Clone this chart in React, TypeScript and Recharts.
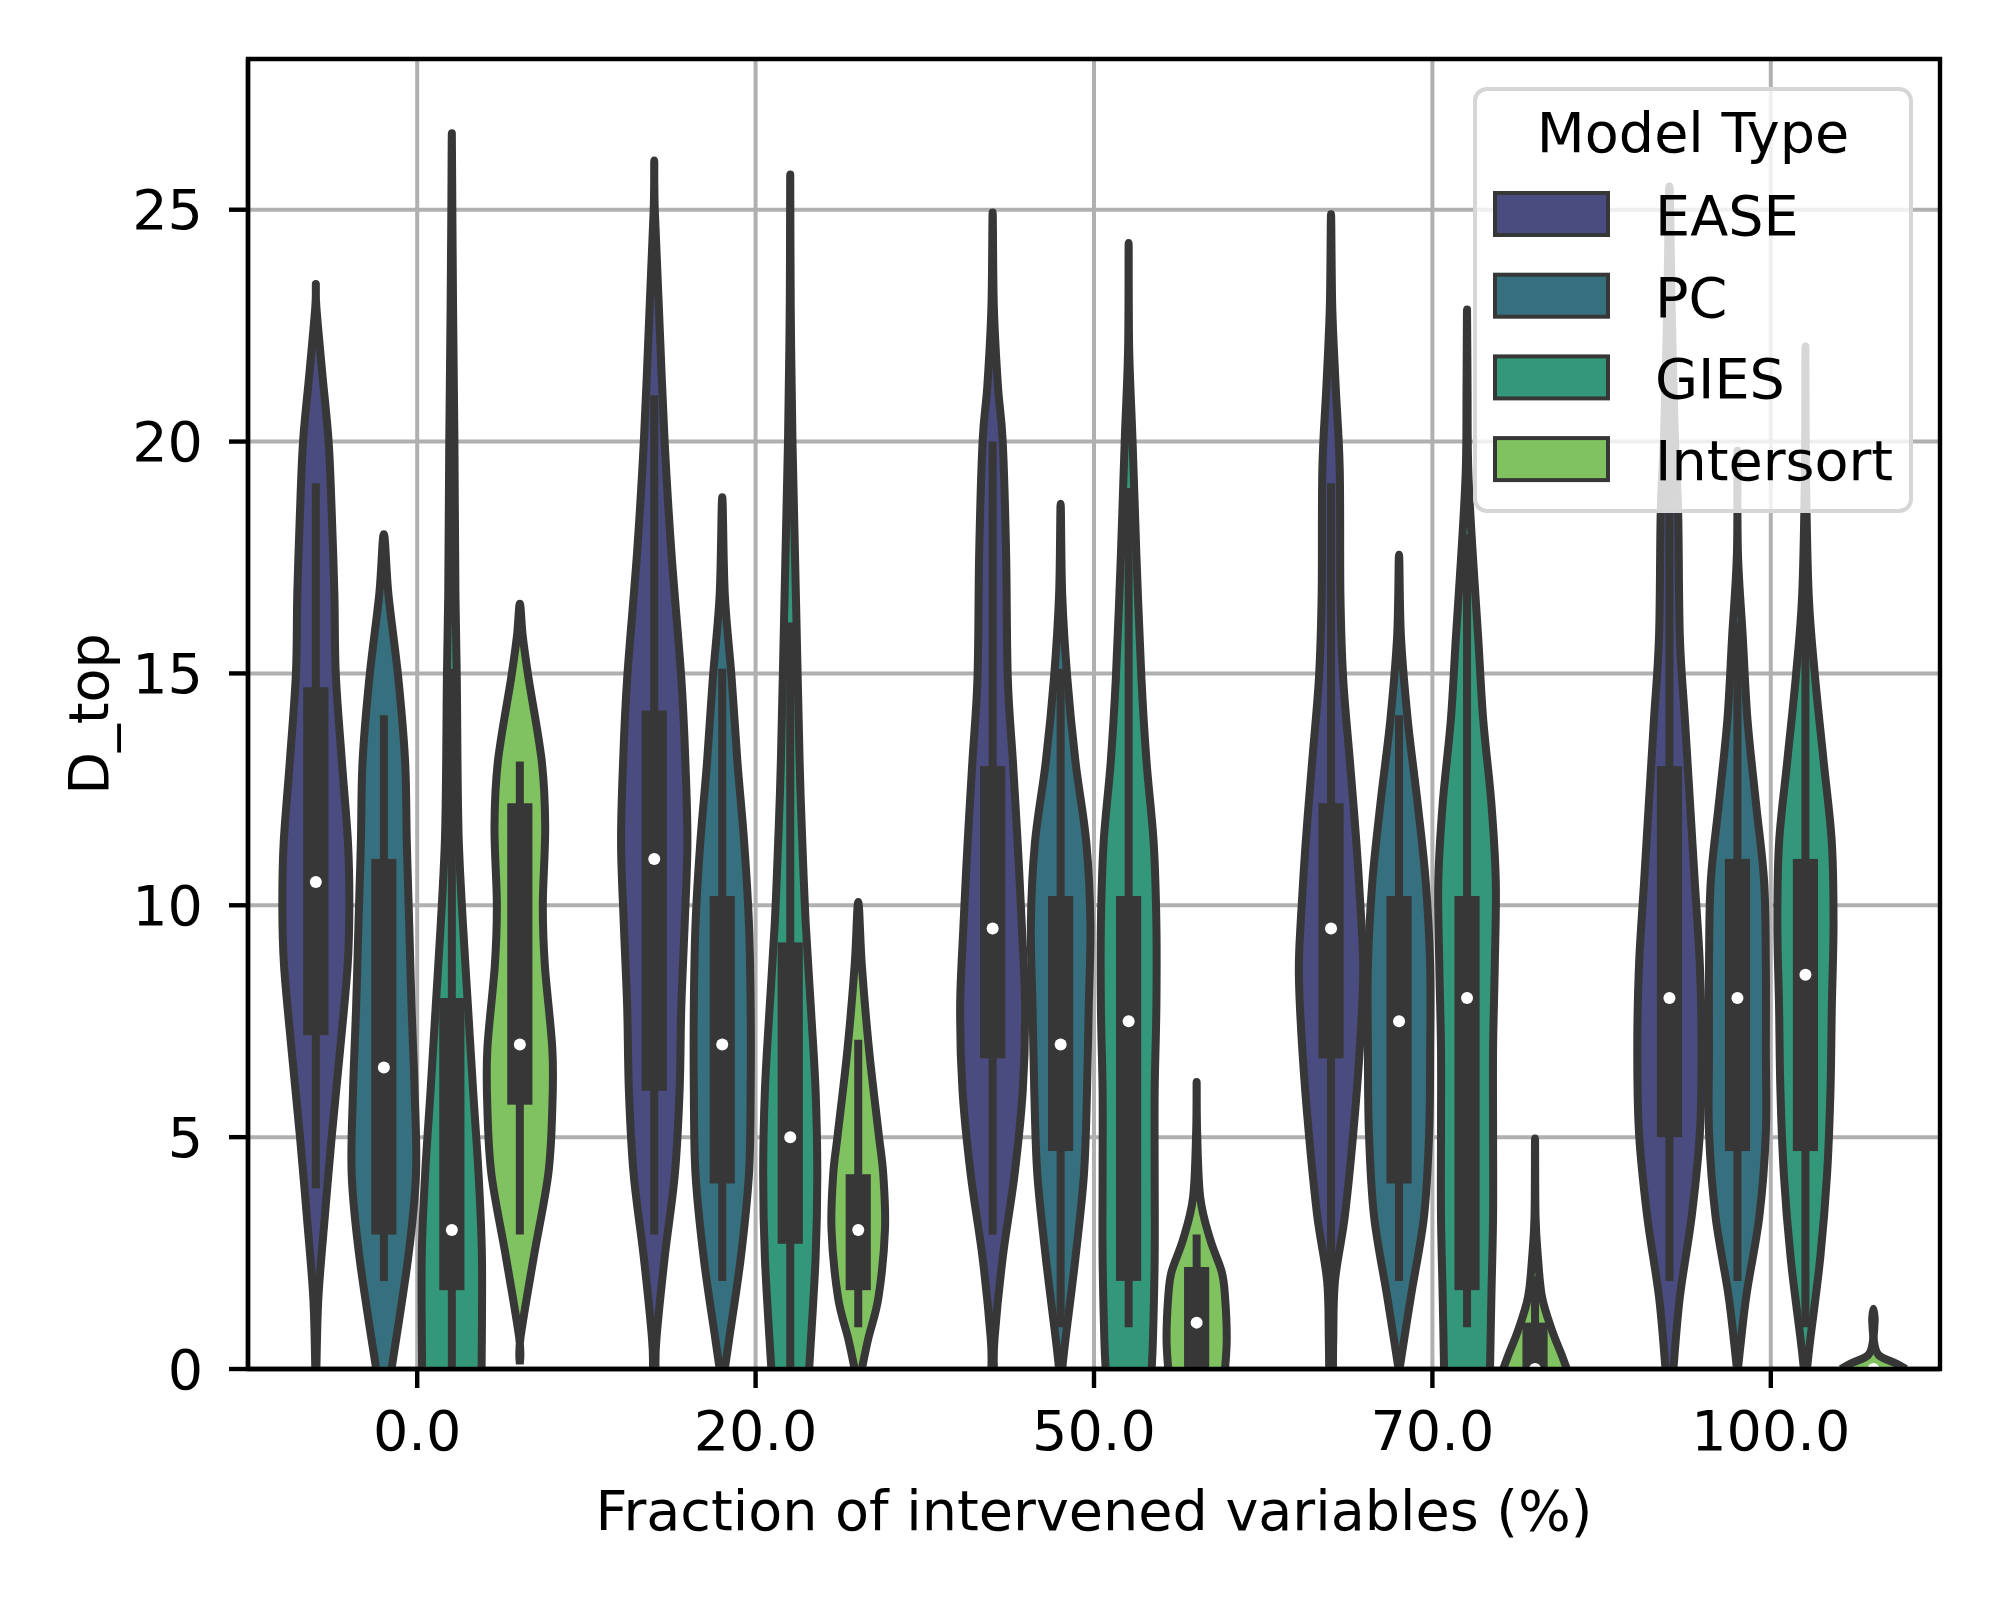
import React from 'react'
import { BarChart, Bar, XAxis, YAxis, CartesianGrid, Legend, ReferenceArea, Label } from 'recharts'

const fractions = ['0.0', '20.0', '50.0', '70.0', '100.0']
const models = ['EASE', 'PC', 'GIES', 'Intersort']
const modelColors = ['#4a4b7e', '#36707f', '#33987a', '#80c160']
const yTicks = [0, 5, 10, 15, 20, 25]
const yMax = 28.25

// inner box per fraction: [lower whisker, q1, median, q3, upper whisker]
const easeStats = [
  [3.9, 7.2, 10.5, 14.7, 19.1],
  [2.9, 6.0, 11, 14.2, 21],
  [2.9, 6.7, 9.5, 13, 20],
  [1.9, 6.7, 9.5, 12.2, 19.1],
  [1.9, 5, 8, 13, 22],
]
const pcStats = [
  [1.9, 2.9, 6.5, 11, 14.1],
  [1.9, 4, 7, 10.2, 15.1],
  [0.9, 4.7, 7, 10.2, 15.1],
  [1.9, 4, 7.5, 10.2, 14.1],
  [1.9, 4.7, 8, 11, 16.1],
]
const giesStats = [
  [0, 1.7, 3, 8, 15.1],
  [0, 2.7, 5, 9.2, 16.1],
  [0.9, 1.9, 7.5, 10.2, 19],
  [0.9, 1.7, 8, 10.2, 18],
  [0.9, 4.7, 8.5, 11, 19],
]
const intersortStats = [
  [2.9, 5.7, 7, 12.2, 13.1],
  [0.9, 1.7, 3, 4.2, 7.1],
  [0, 0, 1, 2.2, 2.9],
  [0, 0, 0, 1, 2],
  [0, 0, 0, 0, 0],
]

// violin outline per fraction, top to bottom: [value, relative half-width]
const easeShape = [
  [[23.4, 0], [22.9, 0.06], [21.5, 0.23], [20, 0.42], [18.5, 0.51], [16.7, 0.59], [15, 0.63], [13.1, 0.81], [11.35, 0.99], [10, 1.03], [8.7, 0.98], [6.9, 0.76], [5, 0.51], [3.3, 0.31], [1.55, 0.12], [0, 0.06]],
  [[26.06, 0], [25, 0.06], [22.9, 0.18], [20, 0.35], [17.6, 0.55], [14.9, 0.84], [13.1, 0.96], [11.35, 1.02], [9.6, 0.94], [7.8, 0.84], [6, 0.79], [4.2, 0.65], [2.4, 0.35], [0.66, 0.11], [0, 0.08]],
  [[24.94, 0], [22.9, 0.08], [21.2, 0.2], [20, 0.34], [17.6, 0.44], [14.9, 0.49], [13.1, 0.64], [11.35, 0.78], [9.6, 0.9], [7.8, 1.0], [6, 0.93], [4.2, 0.69], [2.4, 0.34], [0.66, 0.1], [0, 0.08]],
  [[24.9, 0], [22.9, 0.08], [21.2, 0.18], [19.4, 0.3], [16.7, 0.32], [14.9, 0.4], [13.1, 0.6], [11.35, 0.79], [9.6, 0.94], [8.5, 0.99], [6.9, 0.89], [5.1, 0.7], [3.3, 0.45], [1.9, 0.16], [0.66, 0.11], [0, 0.1]],
  [[25.5, 0], [22.9, 0.11], [20.2, 0.2], [18.5, 0.3], [15.8, 0.35], [14, 0.5], [12.2, 0.65], [10.5, 0.79], [8.7, 0.94], [6.9, 0.99], [5.1, 0.94], [3.3, 0.7], [1.55, 0.35], [0, 0.16]],
]
const pcShape = [
  [[18, 0], [16.7, 0.18], [14.9, 0.47], [13.1, 0.67], [11.35, 0.72], [9.6, 0.79], [7.8, 0.86], [6, 0.95], [4.2, 0.99], [2.4, 0.76], [0, 0.27]],
  [[18.8, 0], [16.7, 0.12], [14.9, 0.32], [13.1, 0.49], [11.35, 0.69], [9.6, 0.83], [7.8, 0.88], [6, 0.88], [4.2, 0.83], [2.4, 0.59], [0.66, 0.25], [0, 0.12]],
  [[18.66, 0], [16.7, 0.09], [14.9, 0.24], [13.1, 0.48], [11.35, 0.8], [9.6, 0.92], [7.8, 0.87], [6, 0.82], [4.2, 0.73], [2.4, 0.48], [0.66, 0.19], [0, 0.09]],
  [[17.56, 0], [15.8, 0.1], [14, 0.3], [12.2, 0.59], [10.5, 0.83], [8.7, 0.96], [6.9, 0.96], [5.1, 0.93], [3.3, 0.78], [1.55, 0.39], [0, 0.05]],
  [[19.8, 0], [17.6, 0.05], [15.8, 0.2], [14, 0.34], [12.2, 0.59], [10.5, 0.83], [8.7, 0.88], [6.9, 0.88], [5.1, 0.88], [3.3, 0.69], [1.55, 0.3], [0, 0.05]],
]
const giesShape = [
  [[26.65, 0], [25, 0.05], [22.9, 0.08], [20, 0.12], [16.7, 0.15], [14.9, 0.19], [13.1, 0.21], [11.35, 0.25], [9.6, 0.37], [7.8, 0.52], [6, 0.67], [4.2, 0.83], [2.4, 0.93], [0, 0.92]],
  [[25.76, 0], [22.9, 0.03], [20, 0.11], [16.7, 0.21], [13.1, 0.32], [11.35, 0.4], [9.6, 0.5], [7.8, 0.65], [6, 0.79], [4.2, 0.84], [2.4, 0.79], [0, 0.6]],
  [[24.28, 0], [22, 0.06], [20, 0.16], [17.6, 0.27], [14.9, 0.42], [13.1, 0.57], [11.35, 0.78], [9.6, 0.86], [7.8, 0.86], [6, 0.81], [4.2, 0.81], [2.4, 0.81], [0.66, 0.76], [0, 0.72]],
  [[22.85, 0], [21.2, 0.05], [19.4, 0.08], [17.6, 0.21], [15.8, 0.37], [14, 0.52], [12.2, 0.76], [10.5, 0.89], [8.7, 0.86], [6.9, 0.81], [5.1, 0.81], [3.3, 0.81], [1.55, 0.76], [0, 0.72]],
  [[22.05, 0], [19.4, 0.04], [16.7, 0.14], [14.9, 0.33], [13.1, 0.58], [11.35, 0.82], [9.6, 0.87], [7.8, 0.82], [6, 0.78], [4.2, 0.68], [2.4, 0.48], [0.66, 0.19], [0, 0.09]],
]
const intersortShape = [
  [[16.5, 0], [15.8, 0.13], [14.9, 0.3], [13.1, 0.69], [11.7, 0.79], [10, 0.72], [8.7, 0.78], [6.9, 1.0], [5.65, 1.0], [4.2, 0.88], [2.4, 0.45], [0.66, 0.06], [0.1, 0]],
  [[10.07, 0], [8.7, 0.15], [6.9, 0.36], [5.1, 0.64], [4.2, 0.78], [3, 0.83], [1.55, 0.64], [0.66, 0.34], [0, 0.15]],
  [[6.19, 0], [5.1, 0.05], [3.7, 0.15], [2.8, 0.44], [2.1, 0.78], [1.55, 0.88], [0.66, 0.93], [0, 0.88]],
  [[4.97, 0], [3.3, 0.05], [2.4, 0.13], [1.55, 0.25], [0.84, 0.54], [0.3, 0.83], [0, 0.98]],
  [[1.3, 0], [1.1, 0.08], [0.9, 0.07], [0.6, 0.03], [0.3, 0.2], [0.12, 0.7], [0, 1.0]],
]

const allStats = [easeStats, pcStats, giesStats, intersortStats]
const allShapes = [easeShape, pcShape, giesShape, intersortShape]

// each violin is a ranged bar spanning its outline, the shape draws the rest
const chartData = fractions.map((name, i) => {
  const row: any = { name, idx: i }
  models.forEach((m, k) => {
    const pts = allShapes[k][i]
    row[m] = [pts[pts.length - 1][0], pts[0][0]]
  })
  return row
})

const FONT = 'DejaVu Sans'
const OUTLINE = '#373737'

function smoothPath(pts: number[][]) {
  let d = `M${pts[0][0]},${pts[0][1]}`
  for (let i = 0; i < pts.length - 1; i++) {
    const p0 = pts[Math.max(0, i - 1)]
    const p1 = pts[i]
    const p2 = pts[i + 1]
    const p3 = pts[Math.min(pts.length - 1, i + 2)]
    const c1x = p1[0] + (p2[0] - p0[0]) / 6
    const c1y = p1[1] + (p2[1] - p0[1]) / 6
    const c2x = p2[0] - (p3[0] - p1[0]) / 6
    const c2y = p2[1] - (p3[1] - p1[1]) / 6
    d += ` C${c1x},${c1y} ${c2x},${c2y} ${p2[0]},${p2[1]}`
  }
  return d
}

const Violin = (props: any) => {
  const { x, y, width, height, payload, modelIndex, fill } = props
  const i = payload.idx
  const pts = allShapes[modelIndex][i]
  const [wlo, q1, med, q3, whi] = allStats[modelIndex][i]
  const lo = pts[pts.length - 1][0]
  const hi = pts[0][0]
  const top = Math.min(y, y + height)
  const bottom = Math.max(y, y + height)
  const toPix = (v: number) => bottom - ((v - lo) / (hi - lo)) * (bottom - top)
  const cx = x + width / 2
  const half = (w: number) => (w > 0 ? Math.max(0.5, (w * width) / 2 - 1.5) : 0)

  const left = pts.map(([v, w]) => [cx - half(w), toPix(v)])
  const right = pts.map(([v, w]) => [cx + half(w), toPix(v)])
  const outline = [...left.slice().reverse(), ...right.slice(1)]
  const d = smoothPath(outline)

  const boxW = width * 0.37
  return (
    <g>
      <path d={d + ' Z'} fill={fill} stroke="none" />
      <path d={d} fill="none" stroke={OUTLINE} strokeWidth={8} strokeLinejoin="round" />
      <line x1={cx} x2={cx} y1={toPix(whi)} y2={toPix(wlo)} stroke={OUTLINE} strokeWidth={8} />
      <rect x={cx - boxW / 2} y={toPix(q3)} width={boxW} height={toPix(q1) - toPix(q3)} fill={OUTLINE} />
      <circle cx={cx} cy={toPix(med)} r={6} fill="#fff" />
    </g>
  )
}

const LegendBox = () => (
  <svg width={440} height={426} style={{ display: 'block' }}>
    <rect x={2} y={2} width={436} height={422} rx={12} fill="rgba(255,255,255,0.8)" stroke="#d6d6d6" strokeWidth={4} />
    <text x={220} y={65} textAnchor="middle" fontFamily={FONT} fontSize={55.6} fill="#000">
      Model Type
    </text>
    {models.map((m, k) => (
      <g key={m}>
        <rect x={22} y={106 + k * 81.7} width={113} height={42} fill={modelColors[k]} stroke={OUTLINE} strokeWidth={4} />
        <text x={182} y={148 + k * 81.7} fontFamily={FONT} fontSize={55.6} fill="#000">
          {m}
        </text>
      </g>
    ))}
  </svg>
)

const XTitle = (props: any) => {
  const vb = props.viewBox || { x: 248, y: 1369, width: 1692 }
  return (
    <text x={vb.x + vb.width / 2} y={vb.y + 161} textAnchor="middle" fontFamily={FONT} fontSize={55.6} fill="#000">
      Fraction of intervened variables (%)
    </text>
  )
}

const YTitle = (props: any) => {
  const vb = props.viewBox || { x: 78, y: 59, height: 1310 }
  const tx = vb.x + 30
  const ty = vb.y + vb.height / 2
  return (
    <text x={tx} y={ty} transform={`rotate(-90, ${tx}, ${ty})`} textAnchor="middle" fontFamily={FONT} fontSize={55.6} fill="#000">
      D_top
    </text>
  )
}

export default function App() {
  const tickStyle = { fill: '#000', fontSize: 55.6, fontFamily: FONT }
  return (
    <div style={{ position: 'absolute', left: 0, top: 0, width: 2000, height: 1600, background: '#fff' }}>
      <BarChart
        width={2000}
        height={1600}
        data={chartData}
        margin={{ top: 59, right: 60, bottom: 70, left: 78 }}
        barCategoryGap="10%"
        barGap={0}
      >
        <CartesianGrid stroke="#b0b0b0" strokeWidth={4} />
        <XAxis
          dataKey="name"
          interval={0}
          height={161}
          tickSize={19}
          tickMargin={23}
          tick={tickStyle}
          tickLine={{ stroke: '#000', strokeWidth: 4.4 }}
          axisLine={{ stroke: '#000', strokeWidth: 4.4 }}
          label={<Label content={XTitle} />}
        />
        <YAxis
          type="number"
          domain={[0, yMax]}
          ticks={yTicks}
          allowDataOverflow
          interval={0}
          width={170}
          tickSize={19}
          tickMargin={26}
          tick={tickStyle}
          tickLine={{ stroke: '#000', strokeWidth: 4.4 }}
          axisLine={{ stroke: '#000', strokeWidth: 4.4 }}
          label={<Label content={YTitle} />}
        />
        {models.map((m, k) => (
          <Bar
            key={m}
            dataKey={m}
            fill={modelColors[k]}
            isAnimationActive={false}
            shape={(p: any) => <Violin {...p} modelIndex={k} fill={modelColors[k]} />}
          />
        ))}
        <ReferenceArea y1={0} y2={yMax} fill="none" stroke="#000" strokeWidth={4.4} ifOverflow="visible" />
        <Legend
          layout="vertical"
          align="center"
          verticalAlign="middle"
          wrapperStyle={{ position: 'absolute', left: 1473, top: 87, width: 440, height: 426 }}
          content={() => <LegendBox />}
        />
      </BarChart>
    </div>
  )
}
